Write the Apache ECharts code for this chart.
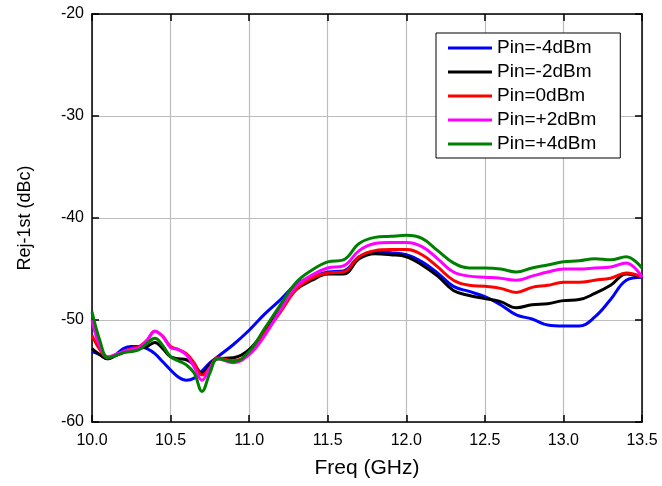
<!DOCTYPE html>
<html>
<head>
<meta charset="utf-8">
<script src="https://cdn.jsdelivr.net/npm/echarts@6/dist/echarts.min.js"></script>
<style>
  html, body { margin: 0; padding: 0; background: #fff; }
  #main { width: 662px; height: 486px; }
</style>
</head>
<body>
<div id="main"></div>
<script>
// frequency points (GHz)
var freq = [10.0, 10.05, 10.1, 10.15, 10.2, 10.25, 10.3, 10.35, 10.4, 10.45, 10.5, 10.55, 10.6, 10.65, 10.7, 10.75, 10.8, 10.9,
            11.0, 11.1, 11.2, 11.3, 11.4, 11.5, 11.6, 11.7, 11.8, 11.9, 12.0, 12.1, 12.2, 12.3, 12.4, 12.5, 12.6, 12.7, 12.8,
            12.9, 13.0, 13.1, 13.2, 13.3, 13.4, 13.5];

// Rej-1st (dBc) for each input power
var pinM4 = [-53.1, -53.4, -53.8, -53.4, -52.8, -52.6, -52.6, -52.8, -53.3, -54.1, -54.9, -55.6, -55.9, -55.7, -55.0, -54.2, -53.6, -52.4,
             -51.0, -49.4, -48.0, -46.5, -45.8, -45.3, -45.2, -43.8, -43.3, -43.4, -43.6, -44.3, -45.4, -46.7, -47.2, -47.7, -48.5, -49.5, -49.9,
             -50.5, -50.6, -50.6, -49.7, -48.0, -46.1, -45.8];
var pinM2 = [-52.8, -53.4, -53.8, -53.5, -53.2, -52.9, -52.8, -52.6, -52.2, -52.8, -53.6, -53.8, -53.9, -54.4, -55.2, -54.4, -53.8, -53.7,
             -52.9, -51.0, -48.7, -47.0, -46.1, -45.5, -45.5, -44.0, -43.5, -43.6, -43.8, -44.6, -45.7, -47.1, -47.6, -47.9, -48.2, -48.8, -48.5,
             -48.4, -48.1, -48.0, -47.4, -46.6, -45.5, -45.8];
var pin0 = [-51.5, -52.9, -53.7, -53.4, -53.1, -52.8, -52.6, -52.0, -51.1, -51.6, -52.6, -52.9, -53.3, -54.2, -55.4, -54.7, -53.7, -54.0,
            -53.3, -51.3, -49.2, -47.0, -45.9, -45.4, -45.3, -43.8, -43.2, -43.1, -43.1, -43.6, -44.8, -46.1, -46.6, -46.7, -46.9, -47.3, -46.8,
            -46.6, -46.3, -46.3, -46.1, -45.9, -45.4, -45.8];
var pinP2 = [-50.0, -52.6, -53.6, -53.4, -53.1, -52.9, -52.7, -52.0, -51.1, -51.6, -52.7, -52.9, -53.4, -54.6, -55.9, -54.7, -53.8, -54.2,
             -53.4, -51.5, -49.0, -46.7, -45.6, -44.9, -44.7, -43.2, -42.5, -42.4, -42.4, -42.8, -44.0, -45.3, -45.7, -45.8, -45.9, -46.1, -45.7,
             -45.3, -45.0, -45.0, -44.9, -44.8, -44.4, -45.8];
var pinP4 = [-49.2, -52.0, -53.7, -53.5, -53.2, -53.1, -52.9, -52.3, -51.8, -52.5, -53.6, -54.0, -54.4, -55.2, -57.0, -55.2, -53.8, -54.1,
             -53.1, -50.8, -48.5, -46.3, -45.1, -44.3, -44.1, -42.5, -41.9, -41.8, -41.7, -42.0, -43.2, -44.4, -44.9, -44.9, -45.0, -45.3, -44.9,
             -44.6, -44.3, -44.2, -44.0, -44.1, -43.8, -44.9];

var seriesNames = ['Pin=-4dBm', 'Pin=-2dBm', 'Pin=0dBm', 'Pin=+2dBm', 'Pin=+4dBm'];
var seriesValues = [pinM4, pinM2, pin0, pinP2, pinP4];
var seriesColors = ['#0000ff', '#000000', '#ff0000', '#ff00ff', '#008000'];

var font = "'Liberation Sans', Arial, sans-serif";

function pairs(vals) {
    var out = [];
    for (var i = 0; i < freq.length; i++) {
        out.push([freq[i], vals[i]]);
    }
    return out;
}

var series = [];
for (var k = 0; k < seriesNames.length; k++) {
    series.push({
        name: seriesNames[k],
        type: 'line',
        smooth: 0.4,
        symbol: 'none',
        data: pairs(seriesValues[k]),
        lineStyle: { color: seriesColors[k], width: 3 },
        itemStyle: { color: seriesColors[k] }
    });
}

var myChart = echarts.init(document.getElementById('main'), null, { renderer: 'canvas' });

var tickStyle = { show: true, inside: true, length: 7, lineStyle: { color: '#000', width: 1.5 } };
var axisLineStyle = { show: true, lineStyle: { color: '#000', width: 1.5 } };

var option = {
    animation: false,
    backgroundColor: '#fff',
    grid: { left: 92, right: 20, top: 14, bottom: 64 },
    legend: {
        orient: 'vertical',
        left: 436,
        top: 33,
        data: seriesNames,
        icon: 'rect',
        itemWidth: 44,
        itemHeight: 3,
        itemGap: 4,
        padding: [5, 24, 4, 12],
        borderColor: '#000',
        borderWidth: 1,
        backgroundColor: '#fff',
        textStyle: { fontFamily: font, fontSize: 19, color: '#000', lineHeight: 20 }
    },
    xAxis: [{
        type: 'value',
        min: 10,
        max: 13.5,
        interval: 0.5,
        name: 'Freq (GHz)',
        nameLocation: 'middle',
        nameGap: 36,
        nameTextStyle: { fontFamily: font, fontSize: 21, color: '#000' },
        axisLine: axisLineStyle,
        axisTick: tickStyle,
        axisLabel: {
            fontFamily: font, fontSize: 16, color: '#000', margin: 11,
            formatter: function (v) { return v.toFixed(1); }
        },
        splitLine: { show: true, lineStyle: { color: '#bdbdbd', width: 1.2 } }
    }, {
        type: 'value',
        position: 'top',
        min: 10,
        max: 13.5,
        interval: 0.5,
        axisLine: axisLineStyle,
        axisTick: tickStyle,
        axisLabel: { show: false },
        splitLine: { show: false }
    }],
    yAxis: [{
        type: 'value',
        min: -60,
        max: -20,
        interval: 10,
        name: 'Rej-1st (dBc)',
        nameLocation: 'middle',
        nameGap: 58,
        nameTextStyle: { fontFamily: font, fontSize: 18, color: '#000' },
        axisLine: axisLineStyle,
        axisTick: tickStyle,
        axisLabel: { fontFamily: font, fontSize: 16, color: '#000', margin: 8 },
        splitLine: { show: true, lineStyle: { color: '#bdbdbd', width: 1.2 } }
    }, {
        type: 'value',
        position: 'right',
        min: -60,
        max: -20,
        interval: 10,
        axisLine: axisLineStyle,
        axisTick: tickStyle,
        axisLabel: { show: false },
        splitLine: { show: false }
    }],
    series: series
};

myChart.setOption(option);
</script>
</body>
</html>
